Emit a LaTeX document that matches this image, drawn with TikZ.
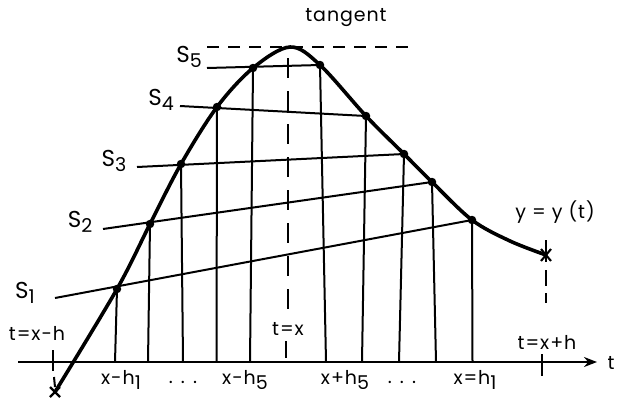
\documentclass[tikz,border=0pt]{standalone}
\usepackage{fontspec}
\setmainfont{Poppins}[LetterSpace=5]
\usetikzlibrary{arrows.meta,calc}
\newcommand{\sub}[1]{\raisebox{-0.45ex}{#1}}
\begin{document}
\begin{tikzpicture}[x=1pt,y=-1pt,
  thinln/.style={line width=2pt},
  curveln/.style={line width=3.6pt, line join=round},
  dashln/.style={line width=2pt, dash pattern=on 12pt off 9pt},
  dot/.style={circle,fill,inner sep=0pt,minimum size=8.5pt},
  lbl/.style={font=\fontsize{19}{19}\selectfont, inner sep=0pt},
  slbl/.style={font=\fontsize{23}{23}\selectfont, inner sep=0pt}]
\useasboundingbox (0,0) rectangle (618,400);
% curve points
\coordinate (xa) at (55,392);
\coordinate (xb) at (546,255);
\coordinate (p1) at (117,289);
\coordinate (p2) at (150,224);
\coordinate (p3) at (181,164);
\coordinate (p4) at (217,107);
\coordinate (p5) at (253,68);
\coordinate (top) at (290,47);
\coordinate (q5) at (320,65);
\coordinate (q4) at (366,116);
\coordinate (q3) at (404,154);
\coordinate (q2) at (432,182);
\coordinate (q1) at (472,220);
\coordinate (qt) at (510,241);
% axis bottoms
\coordinate (b1) at (115,362);
\coordinate (b2) at (148,362);
\coordinate (b3) at (183,362);
\coordinate (b4) at (216.5,362);
\coordinate (b5) at (250,362);
\coordinate (c5) at (326,362);
\coordinate (c4) at (362,362);
\coordinate (c3) at (399,362);
\coordinate (c2) at (436,362);
\coordinate (c1) at (472.5,362);
% secant starts
\coordinate (s1) at (55,298);
\coordinate (s2) at (103,229);
\coordinate (s3) at (137,167);
\coordinate (s4) at (180,106);
\coordinate (s5) at (207,68);
% axis
\coordinate (ax0) at (18,362);
\coordinate (ax1) at (597,362);
\draw[thinln,-{Stealth[length=13pt,width=10pt]}] (ax0) -- (ax1);
\node[lbl] (tlab) at (611,363) {t};
% verticals
\foreach \a/\b in {p1/b1,p2/b2,p3/b3,p4/b4,p5/b5,q5/c5,q4/c4,q3/c3,q2/c2,q1/c1}
  \draw[thinln] (\a) -- (\b);
% secants
\draw[thinln] (s1) -- (q1);
\draw[thinln] (s2) -- (q2);
\draw[thinln] (s3) -- (q3);
\draw[thinln] (s4) -- (q4);
\draw[thinln] (s5) -- (q5);
% tangent
\coordinate (tg0) at (207,47);
\coordinate (tg1) at (416,47);
\draw[dashln] (tg0) -- (tg1);
\node[lbl] (tangent) at (346,18) {tangent};
% t=x dashed
\coordinate (tx0) at (288,58);
\coordinate (tx1) at (288,312);
\draw[thinln, dash pattern=on 20pt off 13pt] (tx0) -- (tx1);
\node[lbl] (tx) at (288,329) {t=x};
\coordinate (tk0) at (286,341);
\coordinate (tk1) at (286,358);
\draw[thinln] (tk0) -- (tk1);
% curve
\draw[curveln] plot[smooth, tension=0.55] coordinates {(xa) (p1) (p2) (p3) (p4) (p5) (top) (q5) (q4) (q3) (q2) (q1) (qt) (xb)};
% dots
\foreach \a in {p1,p2,p3,p4,p5,q5,q4,q3,q2,q1}
  \node[dot] (d\a) at (\a) {};
% left end marks
\coordinate (lt0) at (53,350);
\coordinate (lt1) at (53,371);
\draw[thinln] (lt0) -- (lt1);
\coordinate (ld0) at (54,377);
\coordinate (ld1) at (55,387);
\draw[thinln] (ld0) -- (ld1);
\draw[line width=2.2pt] ($(xa)+(-5,-5)$) -- ($(xa)+(5,5)$);
\draw[line width=2.2pt] ($(xa)+(-5,5)$) -- ($(xa)+(5,-5)$);
% right end marks
\draw[line width=2.1pt] ($(xb)+(-5,-6)$) -- ($(xb)+(5,6)$);
\draw[line width=2.1pt] ($(xb)+(-5,6)$) -- ($(xb)+(5,-6)$);
\coordinate (rv0) at (546,240);
\coordinate (rv1) at (546,316);
\draw[thinln, dash pattern=on 22pt off 8pt on 16pt off 7pt on 10pt off 20pt] (rv0) -- (rv1);
\coordinate (rt0) at (542,354);
\coordinate (rt1) at (542,376);
\draw[thinln] (rt0) -- (rt1);
% labels
\node[lbl] (ly) at (555,212) {y = y (t)};
\node[lbl] (lxh) at (37,333) {t=x-h};
\node[lbl] (rxh) at (547,342) {t=x+h};
\node[lbl] (a1) at (121,380) {x-h\sub{1}};
\node[lbl] (a2) at (183,382) {. . .};
\node[lbl] (a3) at (245,380) {x-h\sub{5}};
\node[lbl] (a4) at (345,380) {x+h\sub{5}};
\node[lbl] (a5) at (402,382) {. . .};
\node[lbl] (a6) at (475,380) {x=h\sub{1}};
\node[slbl] (S1) at (25,293) {S\sub{\fontsize{19}{19}\selectfont 1}};
\node[slbl] (S2) at (80,222) {S\sub{\fontsize{19}{19}\selectfont 2}};
\node[slbl] (S3) at (114,161) {S\sub{\fontsize{19}{19}\selectfont 3}};
\node[slbl] (S4) at (161,100) {S\sub{\fontsize{19}{19}\selectfont 4}};
\node[slbl] (S5) at (189,57) {S\sub{\fontsize{19}{19}\selectfont 5}};
\end{tikzpicture}
\end{document}
